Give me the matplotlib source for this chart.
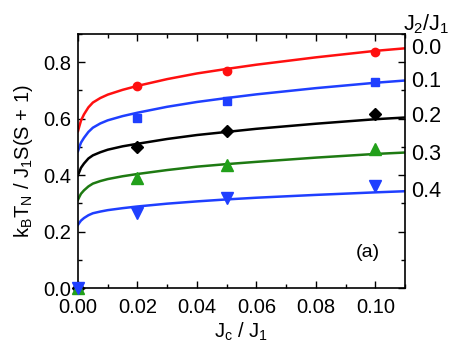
import matplotlib
matplotlib.use("Agg")
import matplotlib.pyplot as plt
from matplotlib.ticker import MultipleLocator
import matplotlib.transforms as mtransforms

plt.rcParams['font.family'] = ['Liberation Sans', 'DejaVu Sans']
plt.rcParams['mathtext.default'] = 'regular'

# Calculated curves
curve_x = [0.0, 0.0005, 0.001, 0.002, 0.0035, 0.005, 0.0075, 0.01, 0.015, 0.02,
           0.03, 0.04, 0.05, 0.06, 0.08, 0.10, 0.11]
curve_00 = [0.556, 0.575, 0.593, 0.615, 0.640, 0.657, 0.673, 0.685, 0.702, 0.716,
            0.740, 0.760, 0.776, 0.791, 0.817, 0.840, 0.849]
curve_01 = [0.485, 0.501, 0.515, 0.532, 0.553, 0.568, 0.583, 0.594, 0.609, 0.621,
            0.642, 0.659, 0.673, 0.686, 0.708, 0.727, 0.735]
curve_02 = [0.400, 0.413, 0.426, 0.441, 0.459, 0.470, 0.481, 0.490, 0.502, 0.511,
            0.528, 0.542, 0.553, 0.564, 0.582, 0.598, 0.604]
curve_03 = [0.313, 0.324, 0.334, 0.346, 0.360, 0.370, 0.379, 0.386, 0.396, 0.404,
            0.418, 0.430, 0.439, 0.447, 0.462, 0.475, 0.480]
curve_04 = [0.224, 0.232, 0.239, 0.248, 0.258, 0.265, 0.271, 0.276, 0.283, 0.289,
            0.299, 0.307, 0.314, 0.320, 0.330, 0.339, 0.343]

# Simulation points
pts_x = [0.0, 0.02, 0.05, 0.10]
pts_00 = [0.0, 0.714, 0.770, 0.837]
pts_01 = [0.0, 0.604, 0.664, 0.731]
pts_02 = [0.0, 0.498, 0.555, 0.618]
pts_03 = [0.0, 0.389, 0.435, 0.491]
pts_04 = [0.0, 0.265, 0.318, 0.360]

j2_labels = ['0.0', '0.1', '0.2', '0.3', '0.4']
label_y = [0.848, 0.730, 0.608, 0.474, 0.343]

fig = plt.figure(figsize=(4.57, 3.57), dpi=100)
ax = fig.add_axes([0.1707, 0.193, 0.7155, 0.712])

series = [
    (curve_00, pts_00, '#ff1010', '#ff1010', 'o', 6),
    (curve_01, pts_01, '#1f3fff', '#1f3fff', 's', 6),
    (curve_02, pts_02, '#000000', '#000000', 'D', 6.5),
    (curve_03, pts_03, '#1e7a12', '#22a01a', '^', 8),
    (curve_04, pts_04, '#1f3fff', '#1f3fff', 'v', 8),
]
for curve, pts, lc, mc, mk, ms in series:
    ax.plot(curve_x, curve, color=lc, lw=1.8)
for curve, pts, lc, mc, mk, ms in series:
    ax.plot(pts_x, pts, ls='none', marker=mk, ms=ms, color=mc, clip_on=False, zorder=3)

ax.set_xlim(0, 0.11)
ax.set_ylim(0, 0.9)
ax.xaxis.set_major_locator(MultipleLocator(0.02))
ax.xaxis.set_minor_locator(MultipleLocator(0.01))
ax.yaxis.set_major_locator(MultipleLocator(0.2))
ax.yaxis.set_minor_locator(MultipleLocator(0.1))
ax.xaxis.set_major_formatter(plt.FormatStrFormatter('%.2f'))
ax.yaxis.set_major_formatter(plt.FormatStrFormatter('%.1f'))
ax.tick_params(which='both', direction='in', top=True, right=True, labelsize=14.5, width=1.0)
ax.tick_params(which='major', length=5)
ax.tick_params(axis='x', which='major', pad=7)
ax.tick_params(axis='y', which='major', pad=5)
ax.tick_params(which='minor', length=3)
for s in ax.spines.values():
    s.set_linewidth(1.2)

ax.set_xlabel('J$_c$ / J$_1$', fontsize=14.5, labelpad=3)
ax.set_ylabel('k$_B$T$_N$ / J$_1$S(S + 1)', fontsize=14.5, labelpad=6)

trans = mtransforms.blended_transform_factory(ax.transAxes, ax.transData)
for lab, yv in zip(j2_labels, label_y):
    ax.text(1.02, yv, lab, transform=trans, fontsize=15.5, va='center', ha='left')
ax.text(1.065, 1.04, 'J$_2$/J$_1$', transform=ax.transAxes, fontsize=15.5, ha='center', va='center')
ax.text(0.0975, 0.127, '(a)', fontsize=14, ha='center', va='center')

fig.savefig('out.png', dpi=100)
